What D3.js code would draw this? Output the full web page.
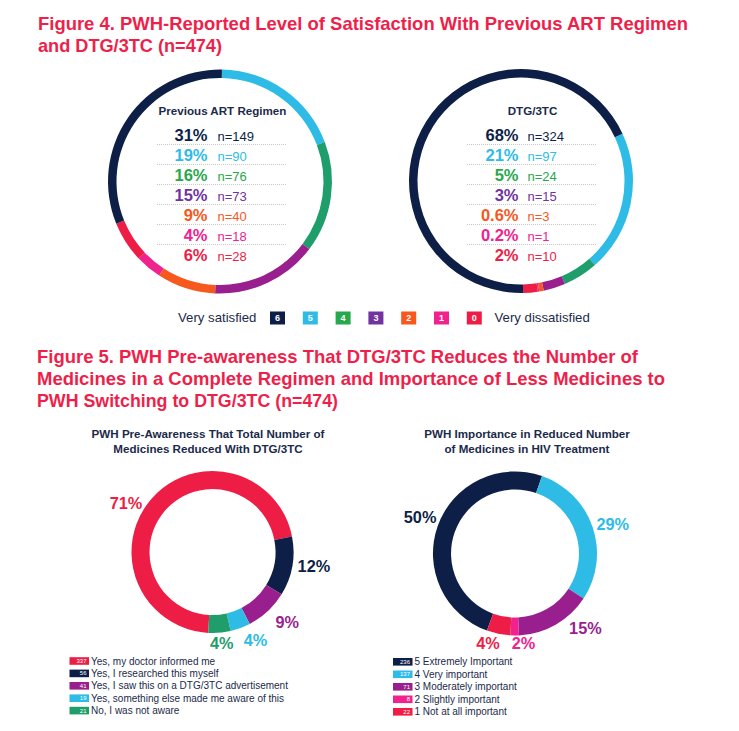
<!DOCTYPE html>
<html>
<head>
<meta charset="utf-8">
<script src="https://cdn.jsdelivr.net/npm/d3@7"></script>
<style>
  html, body { margin: 0; padding: 0; background: #ffffff; }
  svg { display: block; }
  text { font-family: "Liberation Sans", Arial, "DejaVu Sans", sans-serif; }
</style>
</head>
<body>
<svg id="chart" width="739" height="731"></svg>
<script>
// ---------------- DATA ----------------
const fig4Title = ["Figure 4. PWH-Reported Level of Satisfaction With Previous ART Regimen",
                   "and DTG/3TC (n=474)"];
const fig5Title = ["Figure 5. PWH Pre-awareness That DTG/3TC Reduces the Number of",
                   "Medicines in a Complete Regimen and Importance of Less Medicines to",
                   "PWH Switching to DTG/3TC (n=474)"];

// satisfaction levels (6 = very satisfied ... 0 = very dissatisfied)
const satLevels = ["6", "5", "4", "3", "2", "1", "0"];
const prevTitle = "Previous ART Regimen";
const prevCounts = [149, 90, 76, 73, 40, 18, 28];
const prevPct = ["31%", "19%", "16%", "15%", "9%", "4%", "6%"];
const dtgTitle = "DTG/3TC";
const dtgCounts = [324, 97, 24, 15, 3, 1, 10];
const dtgPct = ["68%", "21%", "5%", "3%", "0.6%", "0.2%", "2%"];
const satLegendLeft = "Very satisfied";
const satLegendRight = "Very dissatisfied";

// Figure 5 left
const awareTitle = ["PWH Pre-Awareness That Total Number of", "Medicines Reduced With DTG/3TC"];
const awareCats = ["Yes, my doctor informed me", "Yes, I researched this myself",
                   "Yes, I saw this on a DTG/3TC advertisement",
                   "Yes, something else made me aware of this", "No, I was not aware"];
const awareCounts = [337, 56, 41, 19, 21];
const awarePct = ["71%", "12%", "9%", "4%", "4%"];

// Figure 5 right
const impTitle = ["PWH Importance in Reduced Number", "of Medicines in HIV Treatment"];
const impCats = ["5 Extremely Important", "4 Very important", "3 Moderately important",
                 "2 Slightly important", "1 Not at all important"];
const impCounts = [236, 137, 71, 8, 22];
const impPct = ["50%", "29%", "15%", "2%", "4%"];

// ---------------- STYLE ----------------
const C = {
  navy: "#0e1f47", lblue: "#2ebce6", teal: "#1f9e6c", green: "#27a84a",
  purpleRing: "#9a1f8e", purpleText: "#7232a0", orange: "#f7581d",
  pink: "#f0228e", red: "#ee1d45", title: "#ef1f4b", dark: "#1b2a4a"
};
const satRingColors = [C.navy, C.lblue, C.teal, C.purpleRing, C.orange, C.pink, C.red];
const satTextColors = [C.navy, C.lblue, C.green, C.purpleText, C.orange, C.pink, C.red];
const satBoxColors  = [C.navy, C.lblue, C.green, C.purpleText, C.orange, C.pink, C.red];
const awareColors = [C.red, C.navy, C.purpleRing, C.lblue, C.teal];
const impColors = [C.navy, C.lblue, C.purpleRing, C.pink, C.red];

const svg = d3.select("#chart");
const deg = Math.PI / 180;

// ---------------- TITLES ----------------
function drawTitle(lines, x, y0, lh, widths) {
  lines.forEach((t, i) => {
    svg.append("text").attr("x", x).attr("y", y0 + i * lh)
      .attr("fill", C.title).attr("font-weight", "bold").attr("font-size", 19)
      .attr("textLength", widths[i]).attr("lengthAdjust", "spacingAndGlyphs")
      .text(t);
  });
}
drawTitle(fig4Title, 38, 30, 21.5, [650, 184]);
drawTitle(fig5Title, 37, 363, 22, [601, 628, 301]);

// ---------------- FIGURE 4 DONUTS ----------------
// ring drawn clockwise starting with level 5, ending with level 6
const ringOrder = [1, 2, 3, 4, 5, 6, 0];

function satDonut(cx, cy, counts, pcts, title, startDeg, pctRight, nLeft, lineX0, lineX1) {
  const g = svg.append("g").attr("transform", `translate(${cx},${cy})`);
  const data = ringOrder.map(i => ({ i, v: counts[i] }));
  const pie = d3.pie().sort(null).value(d => d.v)
    .startAngle(startDeg * deg).endAngle(startDeg * deg + 2 * Math.PI);
  const arc = d3.arc().innerRadius(103.5).outerRadius(112);
  g.selectAll("path").data(pie(data)).join("path")
    .attr("d", arc).attr("fill", d => satRingColors[d.data.i]);

  svg.append("text").attr("x", (lineX0 + lineX1) / 2 + 0.5).attr("y", 115)
    .attr("text-anchor", "middle").attr("font-weight", "bold").attr("font-size", 11.6)
    .attr("fill", C.dark).text(title);

  const rowY = d3.scaleLinear().domain([0, 1]).range([141, 161]);
  counts.forEach((c, i) => {
    const y = rowY(i);
    svg.append("text").attr("x", pctRight).attr("y", y).attr("text-anchor", "end")
      .attr("font-weight", "bold").attr("font-size", 16.5).attr("fill", satTextColors[i])
      .text(pcts[i]);
    svg.append("text").attr("x", nLeft).attr("y", y - 0.5)
      .attr("font-size", 13).attr("fill", satTextColors[i]).text("n=" + c);
    if (i < counts.length - 1) {
      svg.append("line").attr("x1", lineX0).attr("x2", lineX1)
        .attr("y1", y + 3.5).attr("y2", y + 3.5)
        .attr("stroke", "#b9b9b9").attr("stroke-width", 0.8).attr("stroke-dasharray", "1,1");
    }
  });
}
satDonut(220, 181.5, prevCounts, prevPct, prevTitle, 1, 207.5, 217.5, 157, 287);
satDonut(521, 181, dtgCounts, dtgPct, dtgTitle, 65, 518.5, 527.5, 467, 597);

// legend
const satLeg = svg.append("g");
satLeg.append("text").attr("x", 178).attr("y", 322).attr("font-size", 13.2)
  .attr("fill", C.dark).text(satLegendLeft);
satLevels.forEach((lv, i) => {
  const x = 270 + i * 32.8;
  satLeg.append("rect").attr("x", x).attr("y", 311.5).attr("width", 15).attr("height", 13)
    .attr("fill", satBoxColors[i]);
  satLeg.append("text").attr("x", x + 7.5).attr("y", 321.2).attr("text-anchor", "middle")
    .attr("font-size", 9).attr("font-weight", "bold").attr("fill", "#ffffff").text(lv);
});
satLeg.append("text").attr("x", 494.5).attr("y", 322).attr("font-size", 13.2)
  .attr("fill", C.dark).text(satLegendRight);

// ---------------- FIGURE 5 DONUTS ----------------
function bigDonut(cx, cy, R, counts, pcts, colors, startDeg, nudges, labelR) {
  const g = svg.append("g").attr("transform", `translate(${cx},${cy})`);
  const pie = d3.pie().sort(null).value(d => d)
    .startAngle(startDeg * deg).endAngle(startDeg * deg + 2 * Math.PI);
  const arcs = pie(counts);
  const arc = d3.arc().innerRadius(R - 18).outerRadius(R);
  const lab = d3.arc().innerRadius(labelR).outerRadius(labelR);
  g.selectAll("path").data(arcs).join("path").attr("d", arc).attr("fill", (d, i) => colors[i]);
  g.selectAll("text").data(arcs).join("text")
    .attr("x", (d, i) => lab.centroid(d)[0] + nudges[i][0])
    .attr("y", (d, i) => lab.centroid(d)[1] + nudges[i][1] + 6)
    .attr("text-anchor", "middle").attr("font-weight", "bold").attr("font-size", 16.3)
    .attr("fill", (d, i) => colors[i]).text((d, i) => pcts[i]);
}
function subTitle(lines, cx) {
  lines.forEach((t, i) => {
    svg.append("text").attr("x", cx).attr("y", 438 + i * 14.7).attr("text-anchor", "middle")
      .attr("font-weight", "bold").attr("font-size", 11.6).attr("fill", C.dark).text(t);
  });
}
function legend(cats, counts, colors, bx, y0, step) {
  cats.forEach((t, i) => {
    const y = y0 + i * step;
    svg.append("rect").attr("x", bx).attr("y", y - 3.8).attr("width", 19.5).attr("height", 7.6)
      .attr("fill", colors[i]);
    svg.append("text").attr("x", bx + 17).attr("y", y + 2).attr("text-anchor", "end")
      .attr("font-size", 6).attr("fill", "#ffffff").text(counts[i]);
    svg.append("text").attr("x", bx + 21.5).attr("y", y + 3.6).attr("font-size", 10)
      .attr("fill", C.dark).text(t);
  });
}

subTitle(awareTitle, 208);
bigDonut(212.5, 552, 81, awareCounts, awarePct, awareColors, 183,
  [[-11, 16.6], [3, -4], [6.6, -3.4], [8.6, -5.9], [0.5, -8.6]], 100);
legend(awareCats, awareCounts, awareColors, 69.5, 661, 12.4);

subTitle(impTitle, 527);
bigDonut(515, 553.5, 82, impCounts, impPct, impColors, 200,
  [[-0.7, -3], [3, 3], [20.8, -12.8], [9, -10.5], [-6.8, -8.5]], 100);
legend(impCats, impCounts, impColors, 393, 661.8, 12.5);
</script>
</body>
</html>
